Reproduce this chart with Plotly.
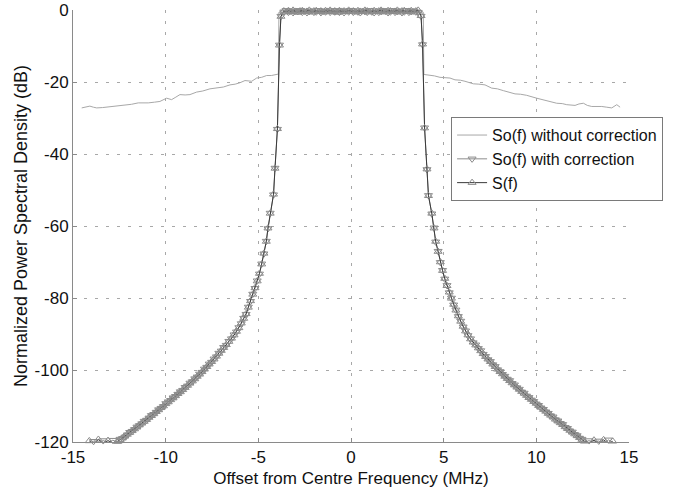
import plotly.graph_objects as go

# ---- power spectral density data (MHz offset, dB) ----

# So(f) without correction: skirt level stays high outside the band
f_raw = [-14.53, -14.30, -14.09, -13.90, -13.72, -13.40, -13.05, -12.64, -12.40, -12.20,
         -11.85, -11.48, -11.20, -10.94, -10.60, -10.31, -9.95, -9.68, -9.45, -9.23,
         -8.95, -8.69, -8.33, -8.00, -7.61, -7.25, -6.89, -6.53, -6.25, -5.99,
         -5.72, -5.36, -5.09, -4.82, -4.55, -4.30, -4.10, -3.92, -3.89,
         -3.75, -3.50, -3.25, -3.00, -2.75, -2.50, -2.25, -2.00, -1.75, -1.50,
         -1.25, -1.00, -0.75, -0.50, -0.25, 0.00, 0.25, 0.50, 0.75, 1.00,
         1.25, 1.50, 1.75, 2.00, 2.25, 2.50, 2.75, 3.00, 3.25, 3.50, 3.75,
         3.90, 3.93, 4.17, 4.50, 4.80, 5.05, 5.34, 5.61, 5.90, 6.15,
         6.40, 6.60, 6.90, 7.23, 7.59, 7.90, 8.22, 8.55, 8.85, 9.15,
         9.48, 10.02, 10.25, 10.47, 10.83, 11.10, 11.40, 11.64, 12.09, 12.30,
         12.54, 12.75, 12.99, 13.25, 13.53, 13.80, 14.07, 14.34, 14.52]
s_raw = [-27.2, -27.0, -26.7, -27.0, -27.2, -27.1, -26.9, -26.8, -26.7, -26.5,
         -26.2, -25.8, -25.9, -25.8, -25.6, -25.4, -24.5, -24.9, -24.2, -23.5,
         -23.6, -23.5, -22.8, -22.5, -21.9, -21.7, -21.4, -20.8, -20.6, -20.2,
         -19.6, -19.8, -18.9, -18.7, -18.2, -18.2, -18.0, -17.8, -0.6,
         -0.2, -0.7, -0.3, -0.5, -0.1, -0.6, -0.4, -0.2, -0.7, -0.3,
         -0.5, -0.2, -0.6, -0.4, -0.1, -0.5, -0.3, -0.7, -0.2, -0.4,
         -0.6, -0.1, -0.5, -0.3, -0.6, -0.2, -0.4, -0.7, -0.3, -0.5, -0.2,
         -0.6, -17.9, -18.0, -18.3, -18.7, -18.8, -18.9, -19.4, -19.5, -19.8,
         -20.2, -20.5, -20.6, -20.8, -21.7, -21.9, -22.4, -22.8, -23.3, -23.4,
         -23.7, -24.5, -24.8, -25.1, -25.4, -25.9, -26.0, -26.3, -26.5, -26.1,
         -25.9, -26.5, -26.8, -26.7, -26.8, -27.0, -27.2, -26.3, -27.0]

# Marker frequency grid: lower skirt, passband, upper skirt
f_lo = [-14.12, -13.89, -13.63, -13.37, -13.11, -12.85, -12.59, -12.46, -12.33, -12.20,
        -12.07, -11.94, -11.81, -11.68, -11.55, -11.42, -11.29, -11.16, -11.03, -10.90,
        -10.77, -10.64, -10.51, -10.38, -10.25, -10.12, -9.99, -9.86, -9.73, -9.60,
        -9.47, -9.34, -9.21, -9.08, -8.95, -8.82, -8.69, -8.56, -8.43, -8.30,
        -8.17, -8.04, -7.91, -7.78, -7.65, -7.52, -7.39, -7.26, -7.13, -7.00,
        -6.87, -6.73, -6.59, -6.45, -6.31, -6.18, -6.05, -5.92, -5.79, -5.66,
        -5.54, -5.42, -5.30, -5.18, -5.06, -4.94, -4.82, -4.70, -4.57, -4.48,
        -4.36, -4.18, -4.10, -3.97, -3.86, -3.78]
f_pb = [-3.625, -3.500, -3.375, -3.250, -3.125, -3.000, -2.875, -2.750, -2.625, -2.500,
        -2.375, -2.250, -2.125, -2.000, -1.875, -1.750, -1.625, -1.500, -1.375, -1.250,
        -1.125, -1.000, -0.875, -0.750, -0.625, -0.500, -0.375, -0.250, -0.125, 0.000,
        0.125, 0.250, 0.375, 0.500, 0.625, 0.750, 0.875, 1.000, 1.125, 1.250,
        1.375, 1.500, 1.625, 1.750, 1.875, 2.000, 2.125, 2.250, 2.375, 2.500,
        2.625, 2.750, 2.875, 3.000, 3.125, 3.250, 3.375, 3.500, 3.625]
f_hi = [3.78, 3.86, 3.97, 4.10, 4.18, 4.36, 4.48, 4.57, 4.70, 4.82,
        4.94, 5.06, 5.18, 5.30, 5.42, 5.54, 5.66, 5.79, 5.92, 6.05,
        6.18, 6.31, 6.45, 6.59, 6.73, 6.87, 7.00, 7.13, 7.26, 7.39,
        7.52, 7.65, 7.78, 7.91, 8.04, 8.17, 8.30, 8.43, 8.56, 8.69,
        8.82, 8.95, 9.08, 9.21, 9.34, 9.47, 9.60, 9.73, 9.86, 9.99,
        10.12, 10.25, 10.38, 10.51, 10.64, 10.77, 10.90, 11.03, 11.16, 11.29,
        11.42, 11.55, 11.68, 11.81, 11.94, 12.07, 12.20, 12.33, 12.46, 12.59,
        12.85, 13.11, 13.37, 13.63, 13.89, 14.12]

# S(f): reference spectrum
s_lo = [-119.7, -120.6, -119.3, -120.5, -119.6, -120.4, -119.9, -119.4, -118.9, -118.4,
        -117.9, -117.4, -116.9, -116.4, -115.9, -115.3, -114.8, -114.3, -113.8, -113.2,
        -112.7, -112.2, -111.6, -111.1, -110.5, -110.0, -109.4, -108.9, -108.3, -107.8,
        -107.2, -106.6, -106.1, -105.5, -104.9, -104.3, -103.7, -103.1, -102.5, -101.8,
        -101.2, -100.5, -99.8, -99.1, -98.4, -97.7, -97.0, -96.2, -95.4, -94.6,
        -93.8, -93.0, -92.1, -91.2, -90.3, -89.3, -88.3, -87.0, -85.7, -84.4,
        -82.6, -80.8, -79.0, -77.2, -75.3, -73.2, -70.6, -67.6, -64.3, -60.6,
        -56.5, -51.2, -44.0, -33.0, -9.8, -1.8]
s_pb = [-0.3, -0.6, -0.2, -0.5, -0.1, -0.4, -0.7, -0.3, -0.2, -0.5,
        -0.4, -0.1, -0.6, -0.3, -0.2, -0.5, -0.3, -0.6, -0.2, -0.4,
        -0.1, -0.5, -0.3, -0.7, -0.2, -0.4, -0.3, -0.5, -0.1, -0.4,
        -0.3, -0.6, -0.2, -0.4, -0.5, -0.1, -0.3, -0.6, -0.4, -0.2,
        -0.5, -0.3, -0.1, -0.4, -0.6, -0.2, -0.3, -0.5, -0.4, -0.1,
        -0.6, -0.3, -0.2, -0.5, -0.4, -0.2, -0.6, -0.3, -0.1]
s_hi = [-1.6, -9.5, -32.8, -44.2, -51.6, -56.5, -60.6, -64.3, -67.1, -70.0,
        -72.4, -74.6, -76.6, -78.4, -80.1, -81.8, -83.4, -85.0, -86.5, -87.9,
        -89.2, -90.3, -91.4, -92.3, -93.1, -93.9, -94.7, -95.5, -96.3, -97.0,
        -97.7, -98.4, -99.1, -99.8, -100.5, -101.1, -101.8, -102.4, -103.0, -103.6,
        -104.2, -104.8, -105.4, -106.0, -106.5, -107.1, -107.7, -108.2, -108.8, -109.3,
        -109.9, -110.4, -111.0, -111.5, -112.1, -112.6, -113.1, -113.7, -114.2, -114.7,
        -115.2, -115.8, -116.3, -116.8, -117.3, -117.8, -118.3, -118.8, -119.3, -119.8,
        -120.3, -119.5, -120.6, -119.4, -120.5, -119.8]

# So(f) with correction: follows S(f) closely
c_lo = [-120.3, -119.8, -120.7, -119.6, -120.2, -119.5, -120.1, -119.2, -119.0, -118.6,
        -118.0, -117.3, -117.0, -116.5, -115.8, -115.4, -114.9, -114.2, -113.9, -113.3,
        -112.6, -112.3, -111.7, -111.0, -110.6, -110.1, -109.3, -108.8, -108.4, -107.7,
        -107.3, -106.7, -106.0, -105.6, -104.8, -104.4, -103.6, -103.2, -102.4, -101.9,
        -101.1, -100.6, -99.7, -99.2, -98.3, -97.8, -96.9, -96.3, -95.3, -94.7,
        -93.7, -93.1, -92.0, -91.3, -90.2, -89.4, -88.2, -87.1, -85.6, -84.5,
        -82.5, -80.9, -78.9, -77.3, -75.2, -73.3, -70.5, -67.7, -64.2, -60.7,
        -56.4, -51.3, -43.9, -33.1, -9.7, -1.7]
c_pb = [-0.5, -0.1, -0.6, -0.3, -0.7, -0.2, -0.4, -0.1, -0.6, -0.3,
        -0.7, -0.4, -0.2, -0.6, -0.5, -0.1, -0.7, -0.3, -0.5, -0.2,
        -0.6, -0.2, -0.5, -0.1, -0.6, -0.3, -0.7, -0.2, -0.5, -0.1,
        -0.6, -0.2, -0.5, -0.7, -0.2, -0.4, -0.6, -0.1, -0.5, -0.7,
        -0.2, -0.6, -0.4, -0.1, -0.3, -0.7, -0.5, -0.1, -0.6, -0.4,
        -0.2, -0.7, -0.5, -0.1, -0.6, -0.4, -0.2, -0.5, -0.6]
c_hi = [-1.7, -9.6, -32.7, -44.3, -51.5, -56.6, -60.5, -64.4, -67.0, -70.1,
        -72.3, -74.7, -76.5, -78.5, -80.0, -81.9, -83.3, -85.1, -86.4, -88.0,
        -89.1, -90.4, -91.3, -92.4, -93.0, -94.0, -94.6, -95.6, -96.2, -97.1,
        -97.6, -98.5, -99.0, -99.9, -100.4, -101.2, -101.7, -102.5, -102.9, -103.7,
        -104.1, -104.9, -105.3, -106.1, -106.4, -107.2, -107.6, -108.3, -108.7, -109.4,
        -109.8, -110.5, -110.9, -111.6, -112.0, -112.7, -113.0, -113.8, -114.1, -114.8,
        -115.1, -115.9, -116.2, -116.9, -117.2, -117.9, -118.2, -118.9, -119.2, -120.1,
        -119.6, -120.4, -119.7, -120.7, -119.4, -120.2]

x_ticks = [-15, -10, -5, 0, 5, 10, 15]
y_ticks = [-120, -100, -80, -60, -40, -20, 0]

f_mk = f_lo + f_pb + f_hi
s_mk = s_lo + s_pb + s_hi
c_mk = c_lo + c_pb + c_hi

FONT = "Liberation Sans, Arial, Helvetica, sans-serif"
INK = "#111111"

fig = go.Figure()
fig.add_trace(go.Scatter(
    x=f_raw, y=s_raw, mode="lines", name="So(f) without correction",
    line=dict(color="#a8a8a8", width=1),
))
fig.add_trace(go.Scatter(
    x=f_mk, y=c_mk, mode="lines+markers", name="So(f) with correction",
    line=dict(color="#8c8c8c", width=1),
    marker=dict(symbol="triangle-down-open", size=7, color="#8c8c8c", line=dict(width=1)),
    cliponaxis=False,
))
fig.add_trace(go.Scatter(
    x=f_mk, y=s_mk, mode="lines+markers", name="S(f)",
    line=dict(color="#3a3a3a", width=1),
    marker=dict(symbol="triangle-up-open", size=7, color="#8c8c8c", line=dict(width=1)),
    cliponaxis=False,
))

axis_common = dict(
    showline=True, linecolor="#8a8a8a", linewidth=1,
    ticks="inside", ticklen=4, tickcolor="#8a8a8a",
    showgrid=True, gridcolor="#a8a8a8", gridwidth=1, griddash="3px,8px",
    zeroline=False, mirror=False,
    tickfont=dict(family=FONT, size=17, color=INK),
    ticklabeloverflow="allow",
)

fig.update_xaxes(
    range=[-15, 15], tickvals=x_ticks, ticktext=[str(v) for v in x_ticks],
    title=dict(text="Offset from Centre Frequency (MHz)",
               font=dict(family=FONT, size=17, color=INK), standoff=5),
    **axis_common,
)
fig.update_yaxes(
    range=[-120, 0], tickvals=y_ticks, ticktext=[str(v) for v in y_ticks],
    title=dict(text="Normalized Power Spectral Density (dB)",
               font=dict(family=FONT, size=18, color=INK), standoff=2),
    **axis_common,
)

fig.update_layout(
    width=698, height=495,
    margin=dict(l=73, r=69, t=10, b=53, autoexpand=False),
    paper_bgcolor="white", plot_bgcolor="white",
    font=dict(family=FONT, size=17, color=INK),
    showlegend=True,
    legend=dict(
        x=0.68, y=0.752, xanchor="left", yanchor="top",
        bgcolor="white", bordercolor="#7a7a7a", borderwidth=1,
        font=dict(family=FONT, size=16, color=INK),
        tracegroupgap=0,
    ),
)

fig.write_html("out.html")
